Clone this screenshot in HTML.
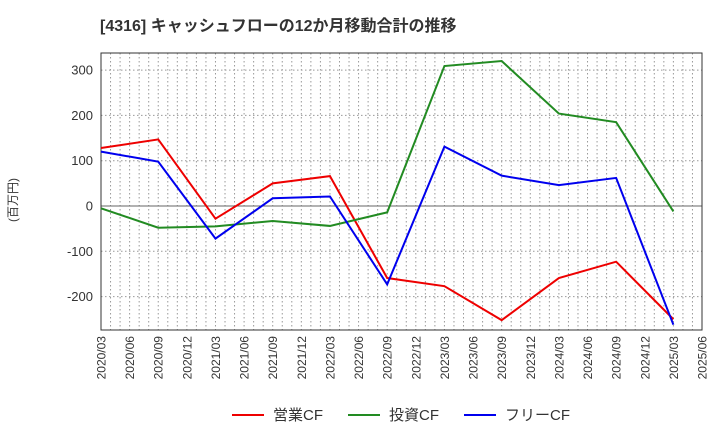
<!DOCTYPE html>
<html><head><meta charset="utf-8"><style>
body{margin:0;background:#fff;font-family:"Liberation Sans","Noto Sans CJK JP",sans-serif;}
</style></head><body>
<svg width="720" height="440" xmlns="http://www.w3.org/2000/svg" font-family="Liberation Sans, Noto Sans CJK JP, sans-serif">
<text x="100" y="31" font-size="16" font-weight="bold" fill="#333">[4316]  キャッシュフローの12か月移動合計の推移</text>
<text transform="translate(17,200) rotate(-90)" font-size="12" fill="#333" text-anchor="middle">(百万円)</text>
<g id="grid"></g><g id="axes"></g><g id="series"></g>
<g>
<line x1="232" y1="415" x2="264" y2="415" stroke="#ee0000" stroke-width="2"/><text x="273" y="420" font-size="15" fill="#333">営業CF</text>
<line x1="348" y1="415" x2="380" y2="415" stroke="#228b22" stroke-width="2"/><text x="389" y="420" font-size="15" fill="#333">投資CF</text>
<line x1="464" y1="415" x2="496" y2="415" stroke="#0000ee" stroke-width="2"/><text x="505" y="420" font-size="15" fill="#333">フリーCF</text>
</g>
</svg>
<script>
const xLabels=["2020/03","2020/06","2020/09","2020/12","2021/03","2021/06","2021/09","2021/12","2022/03","2022/06","2022/09","2022/12","2023/03","2023/06","2023/09","2023/12","2024/03","2024/06","2024/09","2024/12","2025/03","2025/06"];
const yTicks=[300,200,100,0,-100,-200];
const pointIdx=[0,2,4,6,8,10,12,14,16,18,20];
const operatingCF=[128,147,-28,50,66,-159,-177,-252,-159,-123,-250];
const investingCF=[-5,-48,-45,-33,-44,-14,309,320,204,185,-12];
const freeCF=[120,98,-72,17,21,-173,131,67,46,62,-262];
const NS="http://www.w3.org/2000/svg";
const L=101,R=702,T=53,B=330;
const xq=i=>L+i*(R-L)/21;
const y=v=>206-v*0.453;
function mk(t,a,p){const e=document.createElementNS(NS,t);for(const k in a)e.setAttribute(k,a[k]);p.appendChild(e);return e;}
const g=document.getElementById('grid'),ax=document.getElementById('axes'),s=document.getElementById('series');
for(let m=1;m<63;m++){const x=L+m*(R-L)/63;const l=mk('line',{x1:x,x2:x,y1:T,y2:B,stroke:'#999','stroke-dasharray':'1.5,2.5','stroke-width':1},g);

}
yTicks.forEach(v=>{const l=mk('line',{x1:L,x2:R,y1:y(v),y2:y(v),stroke:v===0?'#666':'#999','stroke-dasharray':v===0?'none':'1.5,2.5','stroke-width':1},g);


const t=mk('text',{x:L-8,y:y(v)+4.5,'font-size':13,'text-anchor':'end',fill:'#333'},ax);t.textContent=v;

});
const f=mk('rect',{x:L,y:T,width:R-L,height:B-T,fill:'none',stroke:'#333','stroke-width':1},ax);


xLabels.forEach((lab,i)=>{const x=xq(i);const t=mk('text',{transform:`translate(${x+4.5},${B+6}) rotate(-90)`,'font-size':12,'text-anchor':'end',fill:'#333'},ax);t.textContent=lab;

});
[[operatingCF,'#ee0000','operating-cf-line'],[investingCF,'#228b22','investing-cf-line'],[freeCF,'#0000ee','free-cf-line']].forEach(([d,c,n])=>{
const pts=d.map((v,i)=>xq(pointIdx[i])+','+y(v)).join(' ');
const p=mk('polyline',{points:pts,fill:'none',stroke:c,'stroke-width':2},s);

});
</script>
</body></html>
